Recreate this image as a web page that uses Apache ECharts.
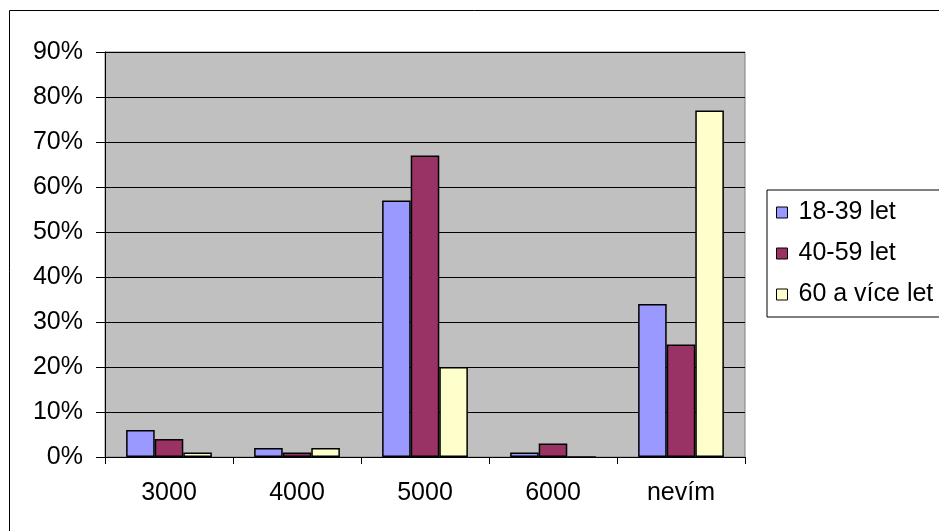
<!DOCTYPE html>
<html>
<head>
<meta charset="utf-8">
<script src="https://cdn.jsdelivr.net/npm/echarts@6/dist/echarts.min.js"></script>
<style>
html,body{margin:0;padding:0;background:#fff;}
#chart{width:939px;height:531px;}
</style>
</head>
<body>
<div id="chart"></div>
<script>
var categories = ['3000', '4000', '5000', '6000', 'nevím'];
var seriesNames = ['18-39 let', '40-59 let', '60 a více let'];
var s1839 = [6, 2, 57, 1, 34];
var s4059 = [4, 1, 67, 3, 25];
var s60 = [1, 2, 20, 0, 77];
var colors = ['#9999FF', '#993366', '#FFFFCC'];

var font = 'Liberation Sans, Arial, sans-serif';
var chart = echarts.init(document.getElementById('chart'));
function mk(name, data, color) {
  return {
    name: name, type: 'bar', data: data,
    barGap: '0%', barCategoryGap: '33%',
    itemStyle: { color: color, borderColor: '#000', borderWidth: 1.5 },
    emphasis: { disabled: true }
  };
}
chart.setOption({
  animation: false,
  graphic: [{
    type: 'rect', shape: { x: 9.5, y: 10.5, width: 940, height: 540 },
    style: { fill: 'none', stroke: '#000', lineWidth: 1 }, z: 0
  }],
  grid: {
    left: 105, top: 52, right: 194, bottom: 74,
    show: true, backgroundColor: '#C0C0C0', borderColor: '#808080', borderWidth: 1
  },
  legend: {
    orient: 'vertical', left: 767, top: 190,
    padding: [10, 20, 10, 9],
    itemWidth: 11, itemHeight: 11, itemGap: 16,
    borderColor: '#000', borderWidth: 1, backgroundColor: '#fff',
    icon: 'rect',
    textStyle: { fontFamily: font, fontSize: 25, color: '#000', padding: [0, 0, 0, 6] },
    itemStyle: { borderColor: '#000', borderWidth: 1 },
    data: seriesNames
  },
  xAxis: {
    type: 'category', data: categories,
    axisLine: { lineStyle: { color: '#000', width: 1 } },
    axisTick: { show: true, alignWithLabel: false, length: 7, lineStyle: { color: '#000' } },
    axisLabel: { fontFamily: font, fontSize: 25, color: '#000', margin: 24 }
  },
  yAxis: {
    type: 'value', min: 0, max: 90, interval: 10,
    axisLine: { show: true, lineStyle: { color: '#000', width: 1 } },
    axisTick: { show: true, length: 9, lineStyle: { color: '#000' } },
    axisLabel: { fontFamily: font, fontSize: 25, color: '#000', margin: 22, formatter: '{value}%' },
    splitLine: { show: true, lineStyle: { color: '#000', width: 1 } }
  },
  series: [mk(seriesNames[0], s1839, colors[0]), mk(seriesNames[1], s4059, colors[1]), mk(seriesNames[2], s60, colors[2])]
});
</script>
</body>
</html>
